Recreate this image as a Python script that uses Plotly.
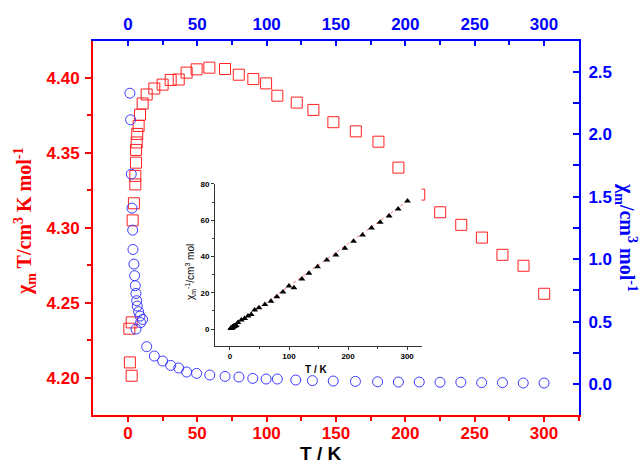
import plotly.graph_objects as go

# chi_m*T versus T (left / bottom axes)
t_chit = [1.4, 1.0, 2.7, 2.7, 3.4, 4.3, 5.3, 5.3, 5.8, 5.8, 6.3, 6.7, 7.7, 8.7, 10.6, 13.5,
          19.0, 25.0, 30.8, 36.6, 42.3, 49.5, 58.7, 70.0, 79.9, 90.4, 99.6, 107.7, 121.7,
          133.7, 148.1, 164.3, 180.6, 195.0, 210.0, 225.1, 240.3, 255.2, 270.0, 285.2, 300.1]
chit = [4.2102, 4.2327, 4.2369, 4.2013, 4.3050, 4.3164, 4.3290, 4.3347, 4.3435, 4.3520,
        4.3570, 4.3627, 4.3680, 4.3755, 4.3830, 4.3890, 4.3930, 4.3956, 4.3987, 4.3990,
        4.4036, 4.4058, 4.4069, 4.4060, 4.4022, 4.3993, 4.3964, 4.3882, 4.3836, 4.3787,
        4.3705, 4.3644, 4.3575, 4.3402, 4.3222, 4.3104, 4.3020, 4.2935, 4.2820, 4.2747,
        4.2560]

# chi_m versus T (right / top axes)
t_chi = [1.4, 1.9, 2.4, 2.9, 3.4, 3.6, 4.3, 4.8, 5.3, 5.8, 6.3, 6.7, 7.7, 8.7, 10.6, 9.1,
         5.8, 13.5, 19.0, 25.0, 30.8, 36.6, 42.3, 49.5, 59.0, 70.0, 80.0, 90.0, 99.6, 107.7,
         121.0, 133.0, 148.0, 164.0, 180.0, 195.0, 210.0, 225.0, 240.0, 255.0, 270.0, 285.0,
         300.0]
chi = [2.328, 2.115, 1.680, 1.408, 1.232, 1.077, 0.960, 0.867, 0.787, 0.725, 0.667, 0.624,
       0.579, 0.544, 0.517, 0.491, 0.440, 0.299, 0.224, 0.184, 0.149, 0.128, 0.096, 0.085,
       0.072, 0.061, 0.056, 0.045, 0.040, 0.040, 0.032, 0.027, 0.024, 0.021, 0.018, 0.016,
       0.016, 0.014, 0.014, 0.011, 0.011, 0.008, 0.008]

# inverse susceptibility (inset)
t_inv = [1.4, 1.9, 2.4, 2.9, 3.4, 3.6, 4.3, 4.8, 5.3, 5.8, 6.3, 6.7, 7.7, 8.7, 10.6, 9.1,
         13.5, 19.2, 24.8, 30.5, 36.0, 41.7, 49.1, 59.2, 69.4, 79.5, 89.7, 99.8, 108.3,
         121.8, 133.7, 148.3, 164.0, 179.4, 194.6, 209.3, 224.5, 239.7, 254.4, 269.6,
         284.8, 300.6]
chi_inv = [0.43, 0.47, 0.60, 0.71, 0.81, 0.93, 1.04, 1.15, 1.27, 1.38, 1.50, 1.60, 1.73,
           1.84, 1.93, 2.04, 3.7, 5.0, 5.9, 7.2, 8.1, 10.5, 11.8, 13.6, 15.4, 17.8, 20.4,
           23.7, 22.8, 27.6, 30.7, 34.4, 38.1, 40.8, 44.5, 48.4, 51.9, 55.7, 58.9, 62.3,
           66.2, 70.5]

# Curie-Weiss fit line
t_fit = [0.0, 300.0]
inv_fit = [0.3, 70.4]

RED = "#ff0000"
BLUE = "#0000ff"
SANS = "Liberation Sans, Arial, sans-serif"
SERIF = "Liberation Serif, Times New Roman, serif"

fig = go.Figure()

fig.add_trace(go.Scatter(
    x=t_chit, y=chit, mode="markers", xaxis="x", yaxis="y",
    marker=dict(symbol="square-open", size=11, color="#ff2020", line=dict(width=1, color="#ff2020")),
    showlegend=False))

fig.add_trace(go.Scatter(
    x=t_chi, y=chi, mode="markers", xaxis="x2", yaxis="y2",
    marker=dict(symbol="circle-open", size=10, color="#3a3aff", line=dict(width=1, color="#3a3aff")),
    showlegend=False))

fig.add_trace(go.Scatter(
    x=t_fit, y=inv_fit, mode="lines", xaxis="x3", yaxis="y3",
    line=dict(color="#ff7070", width=1, dash="dot"), showlegend=False))

fig.add_trace(go.Scatter(
    x=t_inv, y=chi_inv, mode="markers", xaxis="x3", yaxis="y3",
    marker=dict(symbol="triangle-up", size=6, color="black"), showlegend=False))

main_tick = dict(family=SANS, size=17, weight="bold")

fig.update_layout(
    width=640, height=464,
    margin=dict(l=93, r=61, t=41, b=49),
    paper_bgcolor="white", plot_bgcolor="white",
    xaxis=dict(
        domain=[0, 1], range=[-25.2, 325.2], tickvals=[0, 50, 100, 150, 200, 250, 300],
        showline=True, linecolor=RED, linewidth=2, ticks="outside", ticklen=5, tickwidth=2,
        tickcolor=RED, tickfont=dict(color=RED, **main_tick), showgrid=False, zeroline=False,
        ticklabelstandoff=-3,
        minor=dict(tickvals=[25, 75, 125, 175, 225, 275, 325], ticks="outside", ticklen=4,
                   tickwidth=2, tickcolor=RED),
        anchor="y"),
    yaxis=dict(
        domain=[0, 1], range=[4.1751, 4.4247], tickvals=[4.20, 4.25, 4.30, 4.35, 4.40],
        tickformat=".2f",
        showline=True, linecolor=RED, linewidth=2, ticks="outside", ticklen=6, tickwidth=2,
        tickcolor=RED, tickfont=dict(color=RED, **main_tick), showgrid=False, zeroline=False,
        ticklabelstandoff=2,
        minor=dict(tickvals=[4.175, 4.225, 4.275, 4.325, 4.375, 4.425], ticks="outside",
                   ticklen=4, tickwidth=2, tickcolor=RED),
        anchor="x"),
    xaxis2=dict(
        overlaying="x", side="top", range=[-25.2, 325.2],
        tickvals=[0, 50, 100, 150, 200, 250, 300],
        showline=True, linecolor=BLUE, linewidth=2, ticks="inside", ticklen=5, tickwidth=2,
        tickcolor=BLUE, tickfont=dict(color=BLUE, **main_tick), showgrid=False, zeroline=False,
        ticklabelstandoff=2,
        minor=dict(tickvals=[25, 75, 125, 175, 225, 275, 325], ticks="inside", ticklen=4,
                   tickwidth=2, tickcolor=BLUE),
        anchor="y2"),
    yaxis2=dict(
        overlaying="y", side="right", range=[-0.248, 2.7458],
        tickvals=[0, 0.5, 1.0, 1.5, 2.0, 2.5], tickformat=".1f",
        showline=True, linecolor=BLUE, linewidth=2, ticks="inside", ticklen=6, tickwidth=2,
        tickcolor=BLUE, tickfont=dict(color=BLUE, **main_tick), showgrid=False, zeroline=False,
        ticklabelstandoff=4,
        minor=dict(tickvals=[0.25, 0.75, 1.25, 1.75, 2.25], ticks="inside", ticklen=6,
                   tickwidth=2, tickcolor=BLUE),
        anchor="x2"),
    xaxis3=dict(
        domain=[0.251, 0.676], range=[-25.4, 324.4], tickvals=[0, 100, 200, 300],
        showline=True, linecolor="#333333", linewidth=1, ticks="outside", ticklen=3,
        tickwidth=1, tickcolor="#333333",
        tickfont=dict(family=SANS, size=8, color="black", weight="bold"),
        showgrid=False, zeroline=False,
        minor=dict(tickvals=[50, 150, 250], ticks="outside", ticklen=2, tickwidth=1,
                   tickcolor="#333333"),
        anchor="y3"),
    yaxis3=dict(
        domain=[0.185, 0.618], range=[-9.2, 80], tickvals=[0, 20, 40, 60, 80],
        showline=True, linecolor="#333333", linewidth=1, ticks="outside", ticklen=3,
        tickwidth=1, tickcolor="#333333",
        tickfont=dict(family=SANS, size=8, color="black", weight="bold"),
        showgrid=False, zeroline=False,
        minor=dict(tickvals=[10, 30, 50, 70], ticks="outside", ticklen=2, tickwidth=1,
                   tickcolor="#333333"),
        anchor="x3"),
    annotations=[
        dict(text="<b>T / K</b>", x=320, y=453, showarrow=False,
             font=dict(family=SANS, size=19, color="black")),
        dict(text="<b>χ<sub>m</sub> T/cm<sup>3</sup> K mol<sup>-1</sup></b>",
             x=25, y=222, textangle=-90, showarrow=False,
             font=dict(family=SERIF, size=20, color=RED)),
        dict(text="<b>χ<sub>m</sub>/cm<sup>3</sup> mol<sup>-1</sup></b>",
             x=626, y=237, textangle=90, showarrow=False,
             font=dict(family=SERIF, size=20, color=BLUE)),
        dict(text="<b>T / K</b>", x=316, y=369, showarrow=False,
             font=dict(family=SANS, size=10, color="black")),
        dict(text="χ<sub>m</sub><sup>-1</sup>/cm<sup>3</sup> mol",
             x=190, y=272, textangle=-90, showarrow=False,
             font=dict(family=SANS, size=10, color="black")),
    ],
)

# annotation positions above are given in pixels; convert to paper fractions
pw, ph = 640 - 93 - 61, 464 - 41 - 49
for a in fig.layout.annotations:
    a.x = (a.x - 93) / pw
    a.y = (464 - 49 - a.y) / ph
    a.xref = "paper"
    a.yref = "paper"
    a.xanchor = "center"
    a.yanchor = "middle"

fig.write_html("out.html")
